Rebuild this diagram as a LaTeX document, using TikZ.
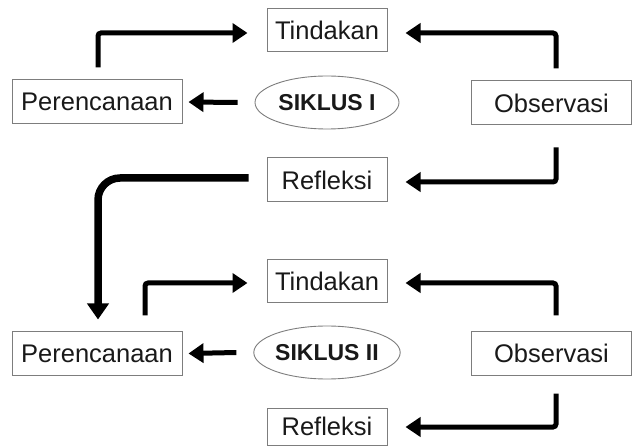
\documentclass[tikz,border=0pt]{standalone}
\usepackage{fontspec}
\setmainfont{Liberation Sans}
\usetikzlibrary{arrows.meta,shapes.geometric}
\definecolor{boxgray}{RGB}{125,125,125}
\tikzset{
  stepbox/.style={draw=boxgray, line width=1pt, inner sep=0pt, minimum width=120pt, minimum height=43pt,
    font=\fontsize{25.5}{30}\selectfont, text=black!90},
  cyclebox/.style={draw=boxgray, line width=0.9pt, ellipse, inner sep=0pt, minimum width=144pt, minimum height=53pt,
    font=\bfseries\fontsize{23}{27}\selectfont, text=black!90},
  flow/.style={line width=5pt, rounded corners=3pt, -{Triangle[length=15pt,width=19pt]}},
  bigflow/.style={line width=7.5pt, rounded corners=22pt, -{Triangle[length=16pt,width=21pt]}},
}
\begin{document}
\begin{tikzpicture}[x=1pt,y=-1pt]
\useasboundingbox (0,0) rectangle (632,446);
% cycle I
\node[stepbox] (t1) at (327,30) {Tindakan};
\node[stepbox, minimum width=170pt, minimum height=44pt] (p1) at (97,102) {Perencanaan};
\node[cyclebox] (s1) at (327,102.5) {SIKLUS I};
\node[stepbox, minimum width=160pt, minimum height=44pt] (o1) at (551.5,103) {Observasi};
\node[stepbox, minimum height=44pt] (r1) at (327,180) {Refleksi};
% cycle II
\node[stepbox] (t2) at (327,281.5) {Tindakan};
\node[stepbox, minimum width=170pt] (p2) at (97,353.5) {Perencanaan};
\node[cyclebox] (s2) at (327,352.5) {SIKLUS II};
\node[stepbox, minimum width=160pt] (o2) at (551.5,353.5) {Observasi};
\node[stepbox, minimum height=37pt] (r2) at (327,426.5) {Refleksi};
% connectors cycle I
\draw[flow] ([xshift=1pt,yshift=12pt]p1.north) |- ([xshift=-19pt,yshift=-3pt]t1.west);
\draw[flow] ([xshift=4.5pt,yshift=12pt]o1.north) |- ([xshift=18pt,yshift=-3pt]t1.east);
\draw[flow] ([xshift=-17pt]s1.west) -- ([xshift=6pt]p1.east);
\draw[flow] ([xshift=4.5pt,yshift=-22pt]o1.south) |- ([xshift=18pt,yshift=-2pt]r1.east);
% link to cycle II
\draw[bigflow] ([xshift=-18pt,yshift=2pt]r1.west) -| ([xshift=1pt,yshift=12pt]p2.north);
% connectors cycle II
\draw[flow] ([xshift=48pt,yshift=16pt]p2.north) |- ([xshift=-19pt,yshift=-1.5pt]t2.west);
\draw[flow] ([xshift=4.5pt,yshift=16pt]o2.north) |- ([xshift=18pt,yshift=-1.5pt]t2.east);
\draw[flow] ([xshift=-17pt]s2.west) -- ([xshift=6pt]p2.east);
\draw[flow] ([xshift=4.5pt,yshift=-18pt]o2.south) |- ([xshift=18pt,yshift=-0.5pt]r2.east);
\end{tikzpicture}
\end{document}
